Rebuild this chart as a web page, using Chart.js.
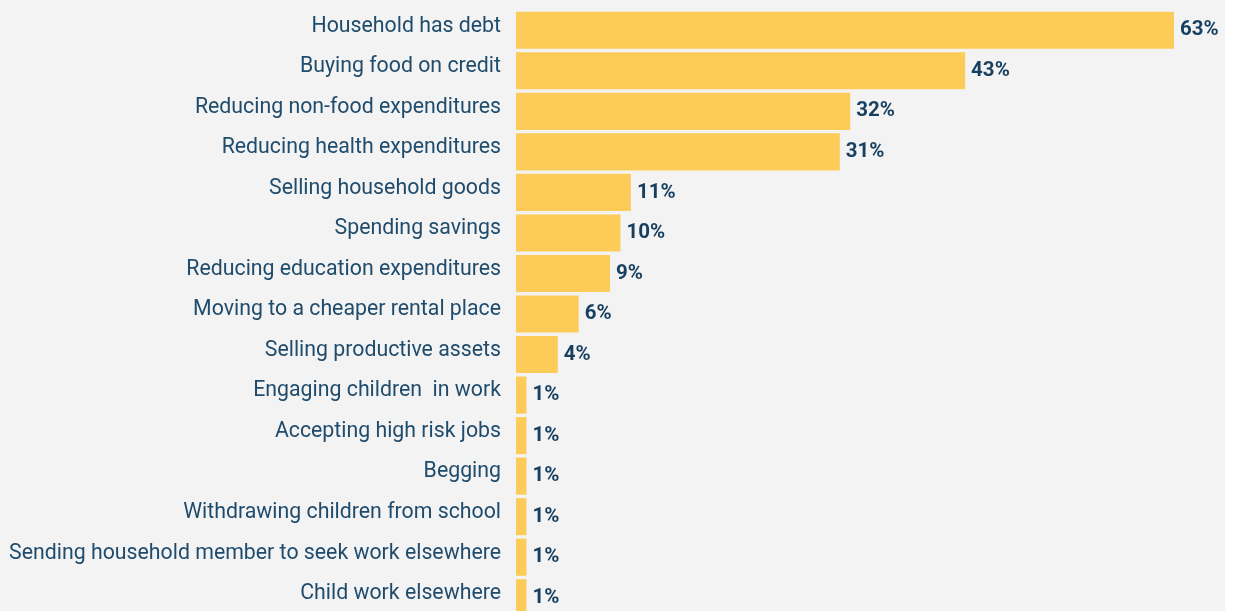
<!DOCTYPE html>
<html>
<head>
<meta charset="utf-8">
<script src="https://cdn.jsdelivr.net/npm/chart.js@4/dist/chart.umd.min.js"></script>
<style>
    html, body { margin: 0; padding: 0; background: #ffffff; overflow: hidden; }
    #wrap { width: 1225px; height: 622px; background: #f3f3f3; position: relative; }
</style>
</head>
<body>
<div id="wrap"><canvas id="copingChart"></canvas></div>
<script>
// Coping strategies chart

const categories = [
    'Household has debt',
    'Buying food on credit',
    'Reducing non-food expenditures',
    'Reducing health expenditures',
    'Selling household goods',
    'Spending savings',
    'Reducing education expenditures',
    'Moving to a cheaper rental place',
    'Selling productive assets',
    'Engaging children  in work',
    'Accepting high risk jobs',
    'Begging',
    'Withdrawing children from school',
    'Sending household member to seek work elsewhere',
    'Child work elsewhere'
];
const shares = [63, 43, 32, 31, 11, 10, 9, 6, 4, 1, 1, 1, 1, 1, 1];

const barColor = '#fdcb58';
const textColor = '#1f4b6c';
const valueColor = '#173f5f';

// draws the "63%" style labels at the end of each bar
const valueLabels = {
    id: 'valueLabels',
    afterDatasetsDraw(chart) {
        const ctx = chart.ctx;
        const meta = chart.getDatasetMeta(0);
        ctx.save();
        ctx.font = 'bold 20.5px Roboto';
        ctx.fillStyle = valueColor;
        ctx.textAlign = 'left';
        ctx.textBaseline = 'middle';
        meta.data.forEach((bar, i) => {
            ctx.fillText(shares[i] + '%', bar.x + 6, bar.y);
        });
        ctx.restore();
    }
};

const ctx = document.getElementById('copingChart').getContext('2d');
new Chart(ctx, {
    type: 'bar',
    data: {
        labels: categories,
        datasets: [{
            data: shares,
            backgroundColor: barColor,
            borderWidth: 0,
            categoryPercentage: 1,
            barPercentage: 0.915
        }]
    },
    options: {
        indexAxis: 'y',
        responsive: true,
        maintainAspectRatio: false,
        animation: false,
        layout: {
            padding: { top: 10, right: 51, bottom: 4, left: 0 }
        },
        plugins: {
            legend: { display: false },
            tooltip: { enabled: false }
        },
        scales: {
            x: {
                display: false,
                min: 0,
                max: 63
            },
            y: {
                grid: { display: false, drawTicks: false },
                border: { display: false },
                ticks: {
                    color: textColor,
                    font: { family: 'Roboto', size: 21.3 },
                    padding: 15,
                    labelOffset: -4
                },
                afterFit(scale) {
                    // bars start at a fixed x like the original
                    scale.width = 516;
                    scale.paddingTop = 0;
                    scale.paddingBottom = 0;
                }
            }
        }
    },
    plugins: [valueLabels]
});
</script>
</body>
</html>
